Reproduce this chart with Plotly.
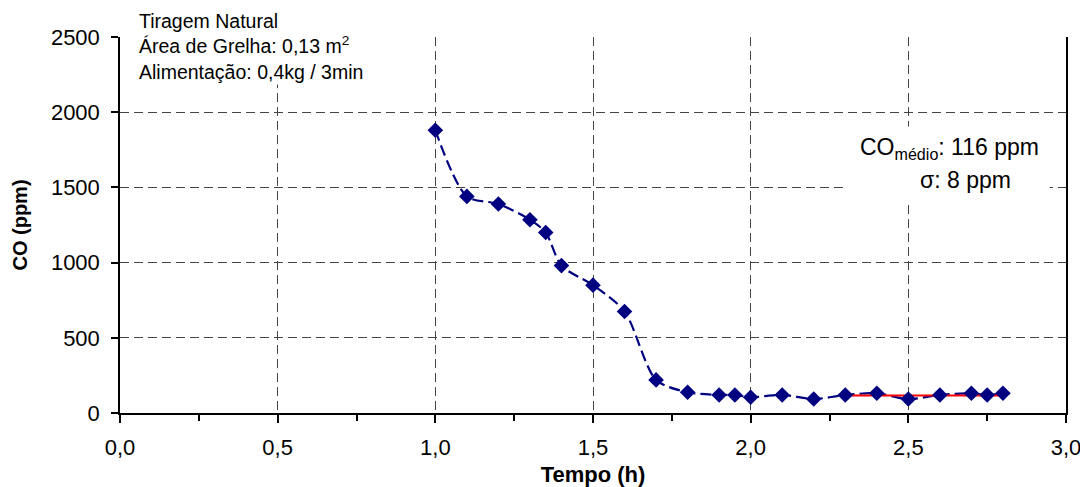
import plotly.graph_objects as go

# Data
tempo_h = [1.0, 1.1, 1.2, 1.3, 1.35, 1.4, 1.5, 1.6, 1.7, 1.8, 1.9, 1.95, 2.0,
           2.1, 2.2, 2.3, 2.4, 2.5, 2.6, 2.7, 2.75, 2.8]
co_ppm = [1880, 1440, 1390, 1285, 1200, 980, 850, 675, 220, 138, 120, 120, 105,
          120, 93, 120, 131, 93, 120, 131, 120, 131]

mean_x = [2.3, 2.8]
co_mean = 116
co_sigma = 8

x_ticks = [0.0, 0.5, 1.0, 1.5, 2.0, 2.5, 3.0]
y_ticks = [0, 500, 1000, 1500, 2000, 2500]

FONT = "Liberation Sans, Arial, sans-serif"
NAVY = "#000080"
GRID = "#444444"

fig = go.Figure()

# smoothed dashed line
fig.add_trace(go.Scatter(
    x=tempo_h, y=co_ppm, mode="lines",
    line=dict(color=NAVY, width=2.2, dash="11px,5px", shape="spline", smoothing=0.8),
    showlegend=False, hoverinfo="skip"))

# mean line
fig.add_trace(go.Scatter(
    x=mean_x, y=[co_mean] * len(mean_x), mode="lines",
    line=dict(color="#ff0000", width=2), showlegend=False, hoverinfo="skip"))

# markers
fig.add_trace(go.Scatter(
    x=tempo_h, y=co_ppm, mode="markers",
    marker=dict(symbol="diamond", size=12, color=NAVY),
    showlegend=False))

# page body has an 8px margin: figure is 1080x479 placed at (8, 8)
fig.update_layout(
    width=1080, height=479,
    margin=dict(l=112, r=22, t=29, b=74, autoexpand=False),
    paper_bgcolor="white", plot_bgcolor="white",
    separators=",.",
    font=dict(family=FONT, color="black", size=22),
)

fig.update_xaxes(
    range=[0, 3], tickvals=x_ticks, tickformat=".1f",
    showgrid=True, gridcolor=GRID, griddash="9px,5px", gridwidth=1,
    showline=True, linecolor="black", linewidth=1.5,
    ticks="outside", ticklen=8, tickcolor="black", tickwidth=1.5,
    minor=dict(dtick=0.25, ticks="outside", ticklen=6, tickcolor="black", showgrid=False),
    zeroline=False, tickfont=dict(size=22), ticklabelstandoff=6,
    title=dict(text="<b>Tempo (h)</b>", font=dict(size=22), standoff=10),
    automargin=False,
)

fig.update_yaxes(
    range=[0, 2500], tickvals=y_ticks,
    showgrid=True, gridcolor=GRID, griddash="9px,5px", gridwidth=1,
    showline=True, linecolor="black", linewidth=1.5, mirror=True,
    ticks="outside", ticklen=7, tickcolor="black", tickwidth=1.5,
    zeroline=False, tickfont=dict(size=22), ticklabelstandoff=7,
    title=dict(text="<b>CO (ppm)</b>", font=dict(size=20), standoff=18),
    automargin=False,
)

fig.add_annotation(
    xref="paper", yref="paper", x=(129 - 112) / 946, y=1 + 29 / 376,
    xanchor="left", yanchor="top", align="left", showarrow=False,
    text="Tiragem Natural<br>Área de Grelha: 0,13 m<sup>2</sup><br>Alimentação: 0,4kg / 3min",
    font=dict(size=19.5, family=FONT), bgcolor="white", borderpad=1,
)

fig.add_shape(type="rect", xref="x", yref="y", x0=2.307, x1=2.948, y0=1390, y1=1905,
              fillcolor="white", line=dict(width=0), layer="between")

fig.add_annotation(
    xref="x", yref="y", x=2.921, y=1762, xanchor="right", yanchor="middle",
    showarrow=False, text="CO<sub>médio</sub>: %d ppm" % co_mean,
    font=dict(size=23, family=FONT))
fig.add_annotation(
    xref="x", yref="y", x=2.832, y=1549, xanchor="right", yanchor="middle",
    showarrow=False, text="σ: %d ppm" % co_sigma,
    font=dict(size=23, family=FONT))

fig.write_html("out.html")
